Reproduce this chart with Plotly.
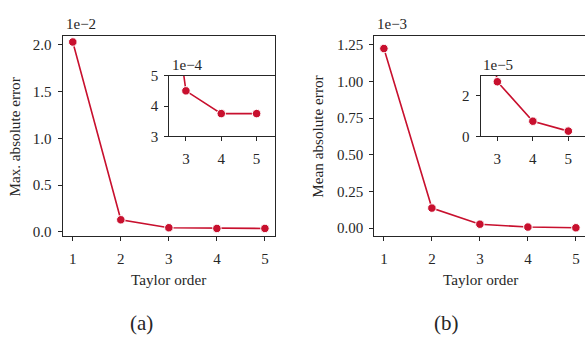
import plotly.graph_objects as go

W, H = 585, 341

taylor_order = [1, 2, 3, 4, 5]
max_abs_error = [2.03e-2, 1.30e-3, 4.50e-4, 3.75e-4, 3.75e-4]
mean_abs_error = [1.225e-3, 1.37e-4, 2.70e-5, 7.5e-6, 2.6e-6]

main_x_ticks = [1, 2, 3, 4, 5]
inset_x_ticks = [3, 4, 5]
max_main_yticks = [0.0, 0.5, 1.0, 1.5, 2.0]
max_main_ylabels = ["0.0", "0.5", "1.0", "1.5", "2.0"]
max_inset_yticks = [3, 4, 5]
mean_main_yticks = [0.0, 0.25, 0.5, 0.75, 1.0, 1.25]
mean_main_ylabels = ["0.00", "0.25", "0.50", "0.75", "1.00", "1.25"]
mean_inset_yticks = [0, 2]

RED = "#c8102e"
INK = "#262626"
FONT = "Liberation Serif"
TICK_SIZE = 15
TITLE_SIZE = 15.2


def px_x(a, b):
    return [a / W, min(b / W, 1.0)]


def px_y(top, bottom):
    return [1 - bottom / H, 1 - top / H]


def px(x, y):
    return x / W, 1 - y / H


fig = go.Figure()

marker = dict(size=8.5, color=RED, line=dict(color="white", width=1))
line = dict(color=RED, width=1.6)

fig.add_trace(go.Scatter(x=taylor_order, y=[v / 1e-2 for v in max_abs_error],
                         mode="lines+markers", marker=marker, line=line,
                         xaxis="x", yaxis="y", showlegend=False))
fig.add_trace(go.Scatter(x=taylor_order, y=[v / 1e-4 for v in max_abs_error],
                         mode="lines+markers", marker=marker, line=line,
                         xaxis="x2", yaxis="y2", showlegend=False))
fig.add_trace(go.Scatter(x=taylor_order, y=[v / 1e-3 for v in mean_abs_error],
                         mode="lines+markers", marker=marker, line=line,
                         xaxis="x3", yaxis="y3", showlegend=False))
fig.add_trace(go.Scatter(x=taylor_order, y=[v / 1e-5 for v in mean_abs_error],
                         mode="lines+markers", marker=marker, line=line,
                         xaxis="x4", yaxis="y4", showlegend=False))

axis_common = dict(showgrid=False, zeroline=False, showline=True, linecolor=INK,
                   linewidth=1.2, ticks="outside", ticklen=4, tickwidth=1,
                   tickcolor=INK, tickfont=dict(family=FONT, size=TICK_SIZE, color=INK))
x_common = dict(axis_common, ticklabelstandoff=5)
y_common = dict(axis_common, ticklabelstandoff=3)

fig.update_layout(
    width=W, height=H,
    margin=dict(l=0, r=0, t=0, b=0),
    paper_bgcolor="white", plot_bgcolor="rgba(0,0,0,0)",
    font=dict(family=FONT, color=INK),
    xaxis=dict(x_common, domain=px_x(62.7, 275), range=[0.79, 5.21],
               tickvals=main_x_ticks, mirror=True, anchor="y"),
    yaxis=dict(y_common, domain=px_y(29, 239), range=[-0.041, 2.098],
               tickvals=max_main_yticks, ticktext=max_main_ylabels, mirror=True, anchor="x"),
    xaxis2=dict(x_common, domain=px_x(169.3, 275), range=[2.53, 5.52],
                tickvals=inset_x_ticks, mirror=True, anchor="y2"),
    yaxis2=dict(y_common, domain=px_y(71, 134.7), range=[3, 5],
                tickvals=max_inset_yticks, mirror=True, anchor="x2"),
    xaxis3=dict(x_common, domain=px_x(374.3, 585), range=[0.8, 5.19],
                tickvals=main_x_ticks, mirror=True, anchor="y3"),
    yaxis3=dict(y_common, domain=px_y(29, 239), range=[-0.052, 1.313],
                tickvals=mean_main_yticks, ticktext=mean_main_ylabels, mirror=False, anchor="x3"),
    xaxis4=dict(x_common, domain=px_x(480.7, 585), range=[2.53, 5.47],
                tickvals=inset_x_ticks, mirror=True, anchor="y4"),
    yaxis4=dict(y_common, domain=px_y(71, 134.7), range=[0, 3.0],
                tickvals=mean_inset_yticks, mirror=False, anchor="x4"),
)

annotations = []


def add_text(text, x, y, size, xanchor="center", yanchor="middle", angle=0):
    ax, ay = px(x, y)
    annotations.append(dict(text=text, x=ax, y=ay, xref="paper", yref="paper",
                            xanchor=xanchor, yanchor=yanchor, showarrow=False,
                            textangle=angle,
                            font=dict(family=FONT, size=size, color=INK)))


# offset (exponent) labels
add_text("1e\u22122", 64, 17, TICK_SIZE, xanchor="left")
add_text("1e\u22124", 170, 60, TICK_SIZE, xanchor="left")
add_text("1e\u22123", 375, 17, TICK_SIZE, xanchor="left")
add_text("1e\u22125", 481, 60, TICK_SIZE, xanchor="left")
# axis titles
add_text("Max. absolute error", 15, 136, TITLE_SIZE, angle=-90)
add_text("Mean absolute error", 318, 135, TITLE_SIZE, angle=-90)
add_text("Taylor order", 169, 285, TITLE_SIZE)
add_text("Taylor order", 480, 285, TITLE_SIZE)
# panel labels
add_text("(a)", 141, 330, 21)
add_text("(b)", 447, 330, 21)

fig.update_layout(annotations=annotations)

fig.write_html(
    "out.html",
    config={"displayModeBar": False},
    post_script="document.body.style.margin='0';document.body.style.overflow='hidden';",
)
